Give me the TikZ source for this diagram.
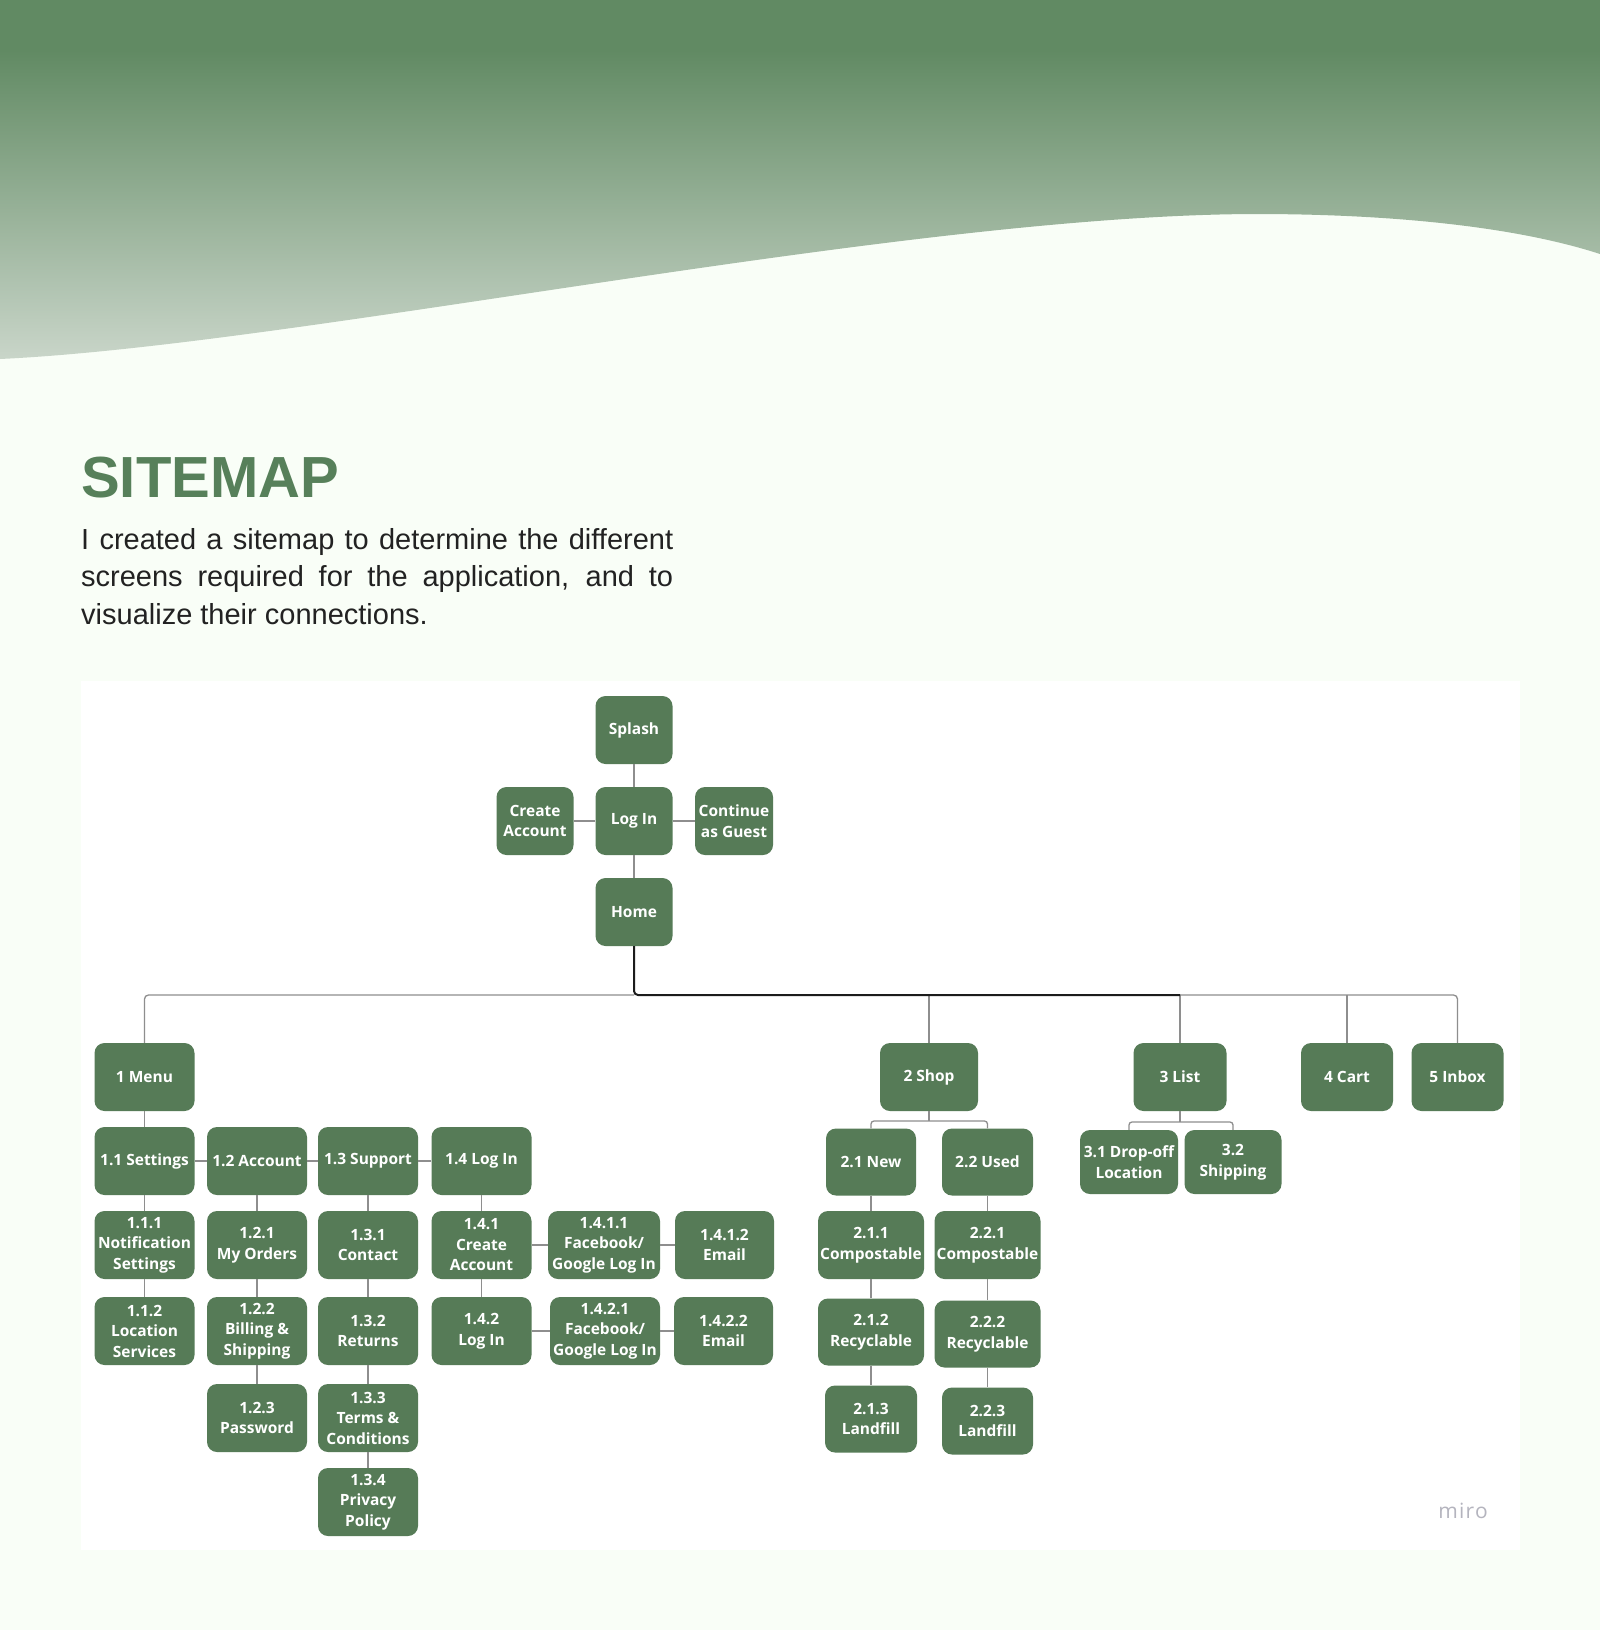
\documentclass[tikz,border=0pt]{standalone}
\usepackage{fontspec}
\setmainfont{Liberation Sans}
\newfontfamily\opensans{Open Sans}
\definecolor{bgwhite}{HTML}{F9FEF7}
\definecolor{hddark}{HTML}{618A63}
\definecolor{hdlight}{HTML}{CAD6CA}
\definecolor{leaf}{HTML}{567B57}
\definecolor{titlegreen}{HTML}{57805A}
\definecolor{wire}{HTML}{8E8E8E}
\definecolor{inkline}{HTML}{1C1C1C}
\definecolor{bodyink}{HTML}{222222}
\definecolor{mirogray}{HTML}{B4B4BE}
\tikzset{
  pg/.style={rectangle, rounded corners=10pt, fill=leaf, text=white, align=center,
    minimum width=100pt, minimum height=68pt, inner sep=1pt,
    font=\opensans\bfseries\fontsize{15.5}{20.5}\selectfont},
  link/.style={draw=wire, line width=1.3pt},
  trunk/.style={draw=inkline, line width=2pt},
}
\begin{document}
\begin{tikzpicture}[x=1pt,y=-1pt]
\useasboundingbox (0,0) rectangle (1600,1630);
% page and header wave
\fill[bgwhite] (0,0) rectangle (1600,1630);
\begin{scope}
\clip (0,0) -- (1600,0) -- (1600,254) .. controls (1520,228) and (1400,214) .. (1255,214)
  .. controls (900,215) and (300,345) .. (0,359) -- cycle;
\fill[hddark] (0,0) rectangle (1600,52);
\shade[top color=hddark, bottom color=hdlight] (0,50) rectangle (1600,362);
\end{scope}
% heading
\node[anchor=base west, inner sep=0, text=titlegreen, font=\fontsize{58}{60}\selectfont\bfseries] (ttl) at (81,497) {SITEMAP};
\node[anchor=north west, inner sep=0, text width=592pt, align=justify, text=bodyink, font=\fontsize{29}{37.5}\selectfont] (intro) at (81,528)
  {I created a sitemap to determine the different\linebreak screens required for the application, and to\linebreak visualize their connections.};
% board
\fill[white] (81,681) rectangle (1520,1550);
\node[text=mirogray, font=\opensans\fontsize{21}{21}\selectfont\addfontfeature{LetterSpace=6}] (miro) at (1463,1511) {miro};
% entry screens
\node[pg, minimum width=77pt] (splash) at (634,730) {Splash};
\node[pg, minimum width=77pt] (login) at (634,821) {Log In};
\node[pg, minimum width=77pt] (create) at (535,821) {Create\\Account};
\node[pg, minimum width=78pt] (guest) at (734,821) {Continue\\as Guest};
\node[pg, minimum width=77pt] (home) at (634,912) {Home};
% main sections
\foreach \n/\x/\w/\t in {menu/144.5/100/1 Menu, shop/929/98/2 Shop, list/1180/93/3 List, cart/1347/92/4 Cart, inbox/1457.5/92/5 Inbox}
  \node[pg, minimum width=\w*1pt] (\n) at (\x,1077) {\t};
% menu
\foreach \n/\x/\t in {set/144.5/1.1 Settings, acct/257/1.2 Account, supp/368/1.3 Support, mlog/481.5/1.4 Log In}
  \node[pg] (\n) at (\x,1161) {\t};
\foreach \n/\x/\w/\t in {notif/144.5/100/{1.1.1\\Notification\\Settings}, orders/257/100/{1.2.1\\My Orders}, contact/368/100/{1.3.1\\Contact},
    mcreate/481.5/100/{1.4.1\\Create\\Account}, fbone/604/112/{1.4.1.1\\Facebook/\\Google Log In}, mailone/724.5/99/{1.4.1.2\\Email}}
  \node[pg, minimum width=\w*1pt] (\n) at (\x,1245) {\t};
\foreach \n/\x/\w/\t in {locsv/144.5/100/{1.1.2\\Location\\Services}, billing/257/100/{1.2.2\\Billing \&\\Shipping}, returns/368/100/{1.3.2\\Returns},
    mlogin/481.5/100/{1.4.2\\Log In}, fbtwo/605/110/{1.4.2.1\\Facebook/\\Google Log In}, mailtwo/723.5/99/{1.4.2.2\\Email}}
  \node[pg, minimum width=\w*1pt] (\n) at (\x,1331) {\t};
\node[pg] (passwd) at (257,1418) {1.2.3\\Password};
\node[pg] (terms) at (368,1418) {1.3.3\\Terms \&\\Conditions};
\node[pg] (privacy) at (368,1502) {1.3.4\\Privacy\\Policy};
% shop
\node[pg, minimum width=90pt, minimum height=67pt] (new) at (871,1162) {2.1 New};
\node[pg, minimum width=91pt, minimum height=67pt] (used) at (987.5,1162) {2.2 Used};
\node[pg, minimum width=106pt] (newcomp) at (871,1245) {2.1.1\\Compostable};
\node[pg, minimum width=106pt] (usedcomp) at (987.5,1245) {2.2.1\\Compostable};
\node[pg, minimum width=106pt, minimum height=67pt] (newrecy) at (871,1332) {2.1.2\\Recyclable};
\node[pg, minimum width=106pt, minimum height=67pt] (usedrecy) at (987.5,1334) {2.2.2\\Recyclable};
\node[pg, minimum width=92pt, minimum height=67pt] (newland) at (871,1419) {2.1.3\\Landfill};
\node[pg, minimum width=91pt, minimum height=67pt] (usedland) at (987.5,1421) {2.2.3\\Landfill};
% list
\node[pg, minimum width=98pt, minimum height=64pt] (dropoff) at (1129,1162) {3.1 Drop-off\\Location};
\node[pg, minimum width=97pt, minimum height=64pt] (shipping) at (1233,1162) {3.2\\Shipping};
% connectors
\foreach \a/\b in {splash/login, create/login, login/guest, login/home, menu/set, set/acct, acct/supp, supp/mlog,
    set/notif, notif/locsv, acct/orders, orders/billing, billing/passwd, supp/contact, contact/returns, returns/terms, terms/privacy,
    mlog/mcreate, mcreate/mlogin, mcreate/fbone, fbone/mailone, mlogin/fbtwo, fbtwo/mailtwo,
    new/newcomp, newcomp/newrecy, newrecy/newland, used/usedcomp, usedcomp/usedrecy, usedrecy/usedland}
  \draw[link] (\a) -- (\b);
\coordinate (hub) at (634,995);
\coordinate (tee) at (1180,995);
\draw[link, rounded corners=4pt] (menu.north) |- (hub);
\draw[link, rounded corners=4pt] (tee) -| (inbox.north);
\draw[link] (shop.north) -- (shop.north |- hub);
\draw[link] (cart.north) -- (cart.north |- hub);
\draw[link] (list.north) -- (tee);
\draw[trunk, rounded corners=4pt] (home.south) |- (tee);
\coordinate (shopfork) at (929,1121);
\draw[link] (shop.south) -- (shopfork);
\draw[link, rounded corners=3pt] (new.north) |- (shopfork) -| (used.north);
\coordinate (listfork) at (1180,1122);
\draw[link] (list.south) -- (listfork);
\draw[link, rounded corners=3pt] (dropoff.north) |- (listfork) -| (shipping.north);
\end{tikzpicture}
\end{document}
